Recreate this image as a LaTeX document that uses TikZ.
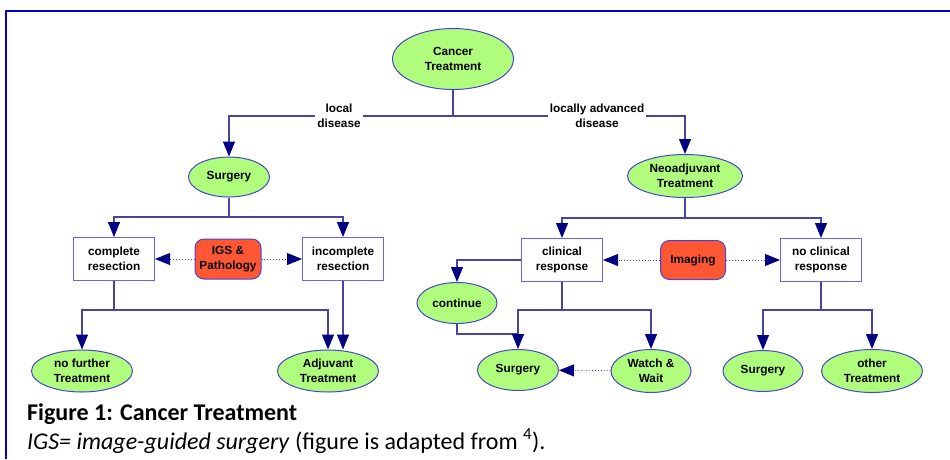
\documentclass[tikz,border=0pt]{standalone}
\usepackage{fontspec}
\setmainfont{Liberation Sans}
\newfontfamily\capfont{Carlito}
\usetikzlibrary{shapes.geometric,arrows.meta}
\definecolor{ngreen}{RGB}{176,252,124}
\definecolor{norange}{RGB}{255,87,51}
\definecolor{nborder}{RGB}{70,70,210}
\definecolor{bborder}{RGB}{100,100,240}
\definecolor{lnblue}{RGB}{70,70,160}
\definecolor{tipblue}{RGB}{0,0,128}
\definecolor{frameblue}{RGB}{0,0,200}
\tikzset{
  lbl/.style={font=\fontsize{11.8}{14.5}\selectfont\bfseries, align=center, inner sep=0pt, text=black},
  ell/.style={lbl, ellipse, draw=nborder, fill=ngreen, line width=1pt},
  box/.style={lbl, rectangle, draw=bborder, fill=white, line width=1pt, minimum width=81pt, minimum height=43pt},
  rbox/.style={lbl, rectangle, rounded corners=9pt, draw=nborder, fill=norange, line width=1pt, minimum height=40pt},
  ln/.style={draw=lnblue, line width=1.2pt},
  arr/.style={ln, -{Triangle[width=12pt,length=15pt,fill=tipblue,color=tipblue]}},
  darr/.style={draw=nborder, line width=0.9pt, dotted, -{Triangle[width=12pt,length=15pt,fill=tipblue,color=tipblue]}},
  elbl/.style={lbl, fill=white, inner sep=2pt}
}
\begin{document}
\begin{tikzpicture}[x=1pt,y=-1pt]
\useasboundingbox (0,0) rectangle (950,459);
\draw[frameblue, line width=2pt] (6,459) -- (6,11) -- (950,11);

% nodes
\node[ell, minimum width=121pt, minimum height=61pt] (ct) at (453,59) {Cancer\\Treatment};
\node[ell, minimum width=81pt, minimum height=40pt] (surg) at (229,177) {Surgery};
\node[ell, minimum width=115pt, minimum height=43pt] (neo) at (685,176) {Neoadjuvant\\Treatment};

\node[box] (cr) at (114,259) {complete\\resection};
\node[rbox, minimum width=66pt] (igs) at (228,259) {IGS \&\\Pathology};
\node[box] (ir) at (343,259) {incomplete\\resection};

\node[box] (cl) at (562,260) {clinical\\response};
\node[rbox, minimum width=65pt, minimum height=39pt] (img) at (693,260) {Imaging};
\node[box] (ncr) at (821,260) {no clinical\\response};

\node[ell, minimum width=80pt, minimum height=41pt] (cont) at (457,303) {continue};

\node[ell, minimum width=101pt, minimum height=42pt] (nft) at (82,371) {no further\\Treatment};
\node[ell, minimum width=101pt, minimum height=42pt] (adj) at (328,371) {Adjuvant\\Treatment};
\node[ell, minimum width=81pt, minimum height=41pt] (surg2) at (518,370) {Surgery};
\node[ell, minimum width=80pt, minimum height=43pt] (ww) at (651,371) {Watch \&\\Wait};
\node[ell, minimum width=80pt, minimum height=41pt] (surg3) at (763,371) {Surgery};
\node[ell, minimum width=101pt, minimum height=43pt] (oth) at (872,371) {other\\Treatment};

% junctions
\coordinate (j1) at (453,116);
\coordinate (j2) at (229,217);
\coordinate (j3) at (114,310);
\coordinate (j4) at (685,218);
\coordinate (j5) at (562,310);
\coordinate (j6) at (518,334);
\coordinate (j7) at (821,310);

% connectors
\draw[ln] (ct) -- (j1);
\draw[arr] (j1) -| (surg);
\draw[arr] (j1) -| (neo);
\node[elbl] (l1) at (339,116) {local\\disease};
\node[elbl] (l2) at (597,116) {locally advanced\\disease};

\draw[ln] (surg) -- (j2);
\draw[arr] (j2) -| (cr);
\draw[arr] (j2) -| (ir);
\draw[darr] (igs) -- (cr);
\draw[darr] (igs) -- (ir);

\draw[ln] (cr) -- (j3);
\draw[arr] (j3) -| (nft);
\draw[arr] (j3) -| (adj);
\draw[arr] (ir.south) -- (ir.south |- adj.north);

\draw[ln] (neo) -- (j4);
\draw[arr] (j4) -| (cl);
\draw[arr] (j4) -| (ncr);
\draw[darr] (img) -- (cl);
\draw[darr] (img) -- (ncr);

\draw[arr] (cl.west) -| (cont);
\draw[ln] (cont) |- (j6);
\draw[ln] (cl) -- (j5);
\draw[arr] (j5) -| (surg2);
\draw[arr] (j5) -| (ww);
\draw[darr] (ww) -- (surg2);

\draw[ln] (ncr) -- (j7);
\draw[arr] (j7) -| (surg3);
\draw[arr] (j7) -| (oth);

% caption
\node[anchor=base west, inner sep=0pt, font=\capfont\fontsize{24}{28}\selectfont\bfseries] (cap1) at (27,420) {Figure 1: Cancer Treatment};
\node[anchor=base west, inner sep=0pt, font=\capfont\fontsize{24}{28}\selectfont] (cap2) at (27,449) {\textit{IGS= image-guided surgery} (figure is adapted from \textsuperscript{4}).};
\end{tikzpicture}
\end{document}
